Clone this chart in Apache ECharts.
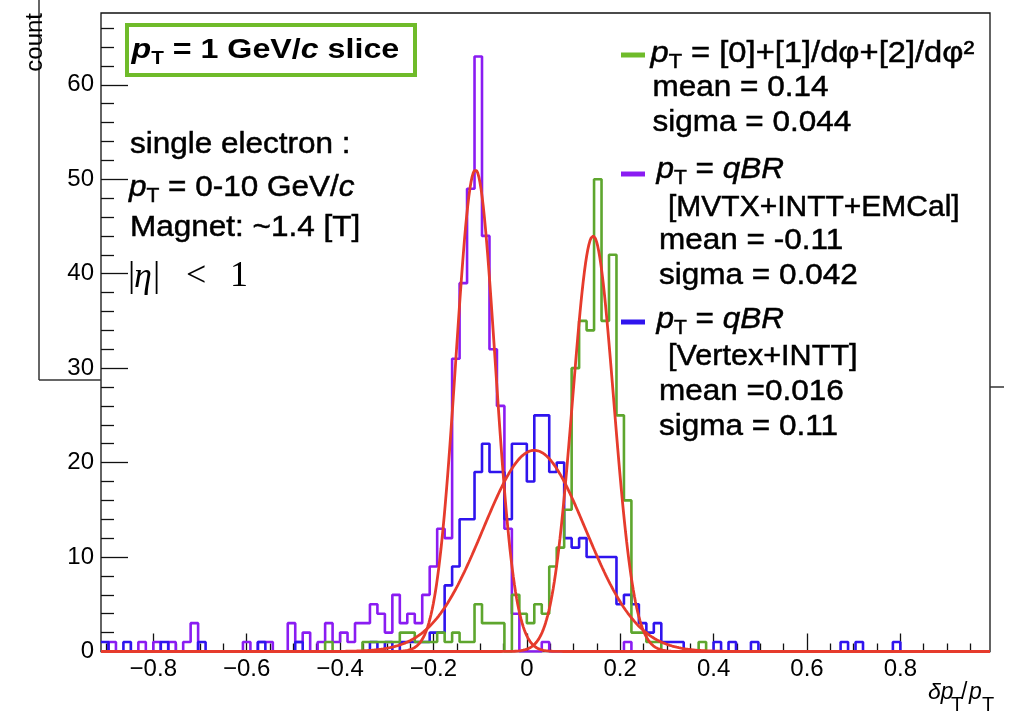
<!DOCTYPE html>
<html><head><meta charset="utf-8">
<script src="https://cdn.jsdelivr.net/npm/echarts@6/dist/echarts.min.js"></script>
<style>html,body{margin:0;padding:0;background:#fff}#c{width:1010px;height:714px}</style>
</head><body><div id="c"></div>
<script>
// ---- histogram binning ----
const binLow = -0.912;
const binWidth = 0.016;
const nBins = 119;
const xRange = [-0.912, 0.992];
const yRange = [0, 67.6];

// ---- tick labels ----
const xMajorTicks = [-0.8, -0.6, -0.4, -0.2, 0, 0.2, 0.4, 0.6, 0.8];
const xMinorTicks = [-0.9,-0.85,-0.75,-0.7,-0.65,-0.55,-0.5,-0.45,-0.35,-0.3,-0.25,-0.15,-0.1,-0.05,
                     0.05,0.1,0.15,0.25,0.3,0.35,0.45,0.5,0.55,0.65,0.7,0.75,0.85,0.9,0.95];
const yMajorTicks = [0, 10, 20, 30, 40, 50, 60];
const yMinorTicks = [2,4,6,8,12,14,16,18,22,24,26,28,32,34,36,38,42,44,46,48,52,54,56,58,62,64,66];

// ---- histogram contents: [bin index, count] (empty bins omitted) ----
const histPurple = [[1,1],[5,1],[7,1],[9,1],[11,1],[12,3],[19,1],[21,1],[22,1],[25,3],[26,1],[27,2],
  [29,1],[30,3],[31,1],[32,2],[33,1],[34,3],[35,3],[36,5],[37,4],[38,2],[39,6],[40,3],[41,4],[42,3],
  [43,6],[44,9],[45,13],[46,12],[47,31],[48,39],[49,49],[50,63],[51,44],[52,32],[53,26],[54,13],[55,4],
  [59,1],[70,1]];
const histBlue = [[0,1],[3,1],[8,1],[13,1],[21,1],[26,1],[36,1],[38,1],[40,1],[41,1],[42,1],[43,1],
  [44,2],[45,2],[46,7],[47,9],[48,14],[49,14],[50,19],[51,22],[52,19],[53,19],[54,14],[55,22],[56,22],
  [57,18],[58,25],[59,25],[60,19],[61,20],[62,12],[63,11],[64,12],[65,10],[66,10],[67,10],[68,10],
  [69,5],[70,6],[71,5],[72,3],[73,2],[74,3],[75,1],[76,1],[77,1],[82,1],[84,1],[87,1],[99,1],[101,1],[106,1]];
const histGreen = [[30,1],[35,1],[36,1],[37,1],[38,1],[39,1],[40,2],[41,2],[42,1],[43,1],[44,1],[45,2],
  [46,1],[47,2],[48,1],[49,1],[50,5],[51,3],[52,3],[53,3],[55,6],[56,4],[57,3],[58,5],[59,4],[60,9],
  [61,11],[62,15],[63,30],[64,35],[65,34],[66,50],[67,35],[68,42],[69,25],[70,16],[71,2],[72,2],[73,1],
  [74,1],[80,1]];

// ---- Gaussian fit parameters (green, purple, blue) ----
const fitAmp   = [44, 51, 21.3];
const fitMean  = [0.142, -0.11, 0.016];
const fitSigma = [0.044, 0.042, 0.11];

const COL_GREEN = '#5ea62e', COL_GREEN_L = '#6fbb2a', COL_PURPLE = '#8a1cf2', COL_BLUE = '#2f14ee', COL_RED = '#e63b2c';
const SANS = "'Liberation Sans', Arial, Helvetica, sans-serif";
const SERIF = "'Liberation Serif', 'DejaVu Serif', serif";

function stepData(pairs) {
  const counts = new Array(nBins).fill(0);
  pairs.forEach(p => { counts[p[0]] = p[1]; });
  const d = [];
  for (let k = 0; k < nBins; k++) d.push([binLow + k * binWidth, counts[k]]);
  d.push([binLow + nBins * binWidth, counts[nBins - 1]]);
  return d;
}
function fitData(i) {
  const d = [], n = 800;
  for (let j = 0; j <= n; j++) {
    const x = xRange[0] + (xRange[1] - xRange[0]) * j / n;
    const z = (x - fitMean[i]) / fitSigma[i];
    d.push([x, fitAmp[i] * Math.exp(-0.5 * z * z)]);
  }
  return d;
}
function histSeries(pairs, color) {
  return { type: 'line', step: 'end', data: stepData(pairs), symbol: 'none', clip: true,
    lineStyle: { color: color, width: 2.6 }, silent: true };
}
function fitSeries(i) {
  return { type: 'line', data: fitData(i), symbol: 'none', clip: true, smooth: false,
    lineStyle: { color: COL_RED, width: 2.8 }, silent: true };
}

const fmtX = v => (v < 0 ? '\u2212' : '') + String(Math.abs(v));

// rich text styles
const FS = 30;
function rich(fs, weight) {
  const sw = weight === 'bold' ? 0 : 0.5;
  return {
    i: { fontFamily: SANS, fontSize: fs, fontStyle: 'italic', fontWeight: weight, lineHeight: 36, fill: '#000', stroke: '#000', lineWidth: sw },
    n: { fontFamily: SANS, fontSize: fs, fontWeight: weight, lineHeight: 36, fill: '#000', stroke: '#000', lineWidth: sw },
    s: { fontFamily: SANS, fontSize: Math.round(fs * 0.66), fontWeight: weight, lineHeight: 29, verticalAlign: 'bottom', fill: '#000', stroke: '#000', lineWidth: sw }
  };
}
function txt(x, y, text, opts) {
  opts = opts || {};
  return { type: 'text', x: x, y: y, scaleX: opts.sx || 1.05, silent: true, z: 100,
    style: { text: text, rich: rich(opts.fs || FS, opts.w || 'normal'), fontFamily: SANS,
      fontSize: opts.fs || FS, fontWeight: opts.w || 'normal', fill: '#000', align: 'left', verticalAlign: 'middle' } };
}
function plain(x, y, text, font, extra) {
  return Object.assign({ type: 'text', x: x, y: y, silent: true, z: 100,
    style: Object.assign({ text: text, fill: '#000', align: 'left', verticalAlign: 'middle' }, font) }, extra || {});
}
function seg(x1, y1, x2, y2, color, w) {
  return { type: 'line', silent: true, z: 100, shape: { x1: x1, y1: y1, x2: x2, y2: y2 }, style: { stroke: color, lineWidth: w } };
}

const graphics = [
  // stray frame lines from the slide
  seg(39, 0, 39, 380, '#333', 1.5),
  seg(39, 380, 101, 380, '#333', 1.5),
  seg(990, 387, 1004, 387, '#333', 1.5),
  // y title
  plain(35, 13, 'count', { fontFamily: SANS, fontSize: 24, align: 'right' }, { rotation: Math.PI / 2 }),
  // x title
  plain(928, 692.5, 'δp', { fontFamily: SANS, fontSize: 23, fontStyle: 'italic' }),
  plain(951, 705.5, 'T', { fontFamily: SANS, fontSize: 20 }),
  plain(961, 692.5, '/', { fontFamily: SANS, fontSize: 23 }),
  plain(969, 692.5, 'p', { fontFamily: SANS, fontSize: 23, fontStyle: 'italic' }),
  plain(982, 705.5, 'T', { fontFamily: SANS, fontSize: 20 }),
  // title box
  { type: 'rect', silent: true, z: 100, shape: { x: 127, y: 25, width: 288, height: 50 },
    style: { fill: '#fff', stroke: COL_GREEN_L, lineWidth: 4 } },
  txt(131.5, 50, '{i|p}{s|T}{n| = 1 GeV/}{i|c}{n| slice}', { fs: 28, w: 'bold', sx: 1.15 }),
  // left annotations
  txt(130, 145, '{n|single electron :}'),
  txt(129, 188, '{i|p}{s|T}{n| = 0-10 GeV/}{i|c}'),
  txt(130, 228, '{n|Magnet: ~1.4 [T]}'),
  plain(128, 277, '|', { fontFamily: SERIF, fontSize: 36 }),
  plain(134, 278, 'η', { fontFamily: SERIF, fontSize: 36, fontStyle: 'italic' }),
  plain(153, 277, '|', { fontFamily: SERIF, fontSize: 36 }),
  plain(186, 277, '<', { fontFamily: SERIF, fontSize: 36 }),
  plain(230, 277, '1', { fontFamily: SERIF, fontSize: 36 }),
  // legend
  seg(621, 55, 645, 55, COL_GREEN_L, 5),
  txt(650.5, 54, '{i|p}{s|T}{n| = [0]+[1]/dφ+[2]/dφ²}', { sx: 1.09 }),
  txt(652.5, 87.5, '{n|mean = 0.14}'),
  txt(652.5, 122.5, '{n|sigma = 0.044}'),
  seg(621, 174, 645, 174, COL_PURPLE, 5),
  txt(656.5, 170, '{i|p}{s|T}{n| = }{i|qBR}'),
  txt(668, 207.5, '{n|[MVTX+INTT+EMCal]}', { sx: 1.0 }),
  txt(659, 241, '{n|mean = -0.11}'),
  txt(659, 276, '{n|sigma = 0.042}'),
  seg(621, 322, 645, 322, COL_BLUE, 5),
  txt(656.5, 320, '{i|p}{s|T}{n| = }{i|qBR}'),
  txt(668, 357, '{n|[Vertex+INTT]}', { sx: 1.02 }),
  txt(659, 392, '{n|mean =0.016}'),
  txt(659, 427, '{n|sigma = 0.11}')
];

const axisCommon = { type: 'value', splitLine: { show: false }, axisLine: { show: false, onZero: false } };
const option = {
  animation: false,
  backgroundColor: '#fff',
  grid: { left: 101, right: 20, top: 13, bottom: 62.5, show: true, borderColor: '#111', borderWidth: 1.3, backgroundColor: 'transparent' },
  xAxis: [
    Object.assign({}, axisCommon, { min: xRange[0], max: xRange[1], position: 'bottom',
      axisTick: { show: true, inside: true, length: 18, customValues: xMajorTicks, lineStyle: { color: '#111', width: 1.3 } },
      axisLabel: { show: true, customValues: xMajorTicks, formatter: fmtX, fontFamily: SANS, fontSize: 24, color: '#000', margin: 6 } }),
    Object.assign({}, axisCommon, { min: xRange[0], max: xRange[1], position: 'bottom',
      axisTick: { show: true, inside: true, length: 8, customValues: xMinorTicks, lineStyle: { color: '#111', width: 1.3 } },
      axisLabel: { show: false } })
  ],
  yAxis: [
    Object.assign({}, axisCommon, { min: yRange[0], max: yRange[1], position: 'left',
      axisTick: { show: true, inside: true, length: 27, customValues: yMajorTicks, lineStyle: { color: '#111', width: 1.3 } },
      axisLabel: { show: true, customValues: yMajorTicks, fontFamily: SANS, fontSize: 24, color: '#000', margin: 7 } }),
    Object.assign({}, axisCommon, { min: yRange[0], max: yRange[1], position: 'left',
      axisTick: { show: true, inside: true, length: 13, customValues: yMinorTicks, lineStyle: { color: '#111', width: 1.3 } },
      axisLabel: { show: false } })
  ],
  series: [
    histSeries(histPurple, COL_PURPLE),
    histSeries(histBlue, COL_BLUE),
    histSeries(histGreen, COL_GREEN),
    fitSeries(0), fitSeries(1), fitSeries(2)
  ],
  graphic: graphics
};
const chart = echarts.init(document.getElementById('c'), null, { renderer: 'canvas', width: 1010, height: 714 });
chart.setOption(option);
</script>
</body></html>
